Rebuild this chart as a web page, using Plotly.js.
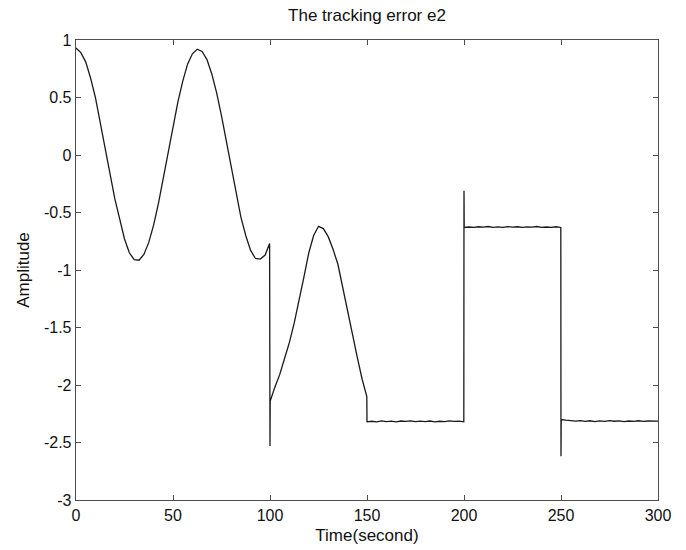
<!DOCTYPE html>
<html>
<head>
<meta charset="utf-8">
<script src="https://cdn.plot.ly/plotly-3.0.1.min.js"></script>
<style>html,body{margin:0;padding:0;background:#fff;}#chart{width:686px;height:550px;}</style>
</head>
<body>
<div id="chart"></div>
<script>
// Segment 1: sinusoidal error, 0-100 s
var timeSeg1 = [0,2.5,5,7.5,10,12.5,15,17.5,20,22.5,25,27.5,30,32.5,35,37.5,40,42.5,45,47.5,50,52.5,55,57.5,60,62.5,65,67.5,70,72.5,75,77.5,80,82.5,85,87.5,90,92.5,95,97.5,99.8];
var ampSeg1  = [0.93,0.89,0.81,0.67,0.50,0.29,0.07,-0.16,-0.38,-0.57,-0.73,-0.85,-0.91,-0.915,-0.865,-0.76,-0.61,-0.42,-0.205,0.02,0.25,0.46,0.64,0.79,0.88,0.92,0.90,0.83,0.705,0.54,0.34,0.115,-0.11,-0.34,-0.54,-0.70,-0.83,-0.90,-0.905,-0.87,-0.77];
// Spike at 100 s and segment 2: arc, 100-150 s
var timeSeg2 = [100,100.1,102.5,105,107.5,110,112.5,115,117.5,120,122.5,125,127.5,130,132.5,135,137.5,140,142.5,145,147.5,149.9];
var ampSeg2  = [-2.53,-2.14,-2.02,-1.91,-1.77,-1.63,-1.46,-1.27,-1.06,-0.85,-0.70,-0.62,-0.64,-0.71,-0.82,-0.95,-1.16,-1.36,-1.57,-1.76,-1.95,-2.10];
// Segment 3: flat low, 150-200 s
var timeSeg3 = [150,152.5,155,157.5,160,162.5,165,167.5,170,172.5,175,177.5,180,182.5,185,187.5,190,192.5,195,197.5,199.9];
var ampSeg3  = [-2.32,-2.315,-2.32,-2.312,-2.318,-2.314,-2.32,-2.313,-2.317,-2.312,-2.319,-2.314,-2.318,-2.313,-2.32,-2.315,-2.318,-2.312,-2.317,-2.314,-2.32];
// Spike at 200 s and segment 4: flat high, 200-250 s
var timeSeg4 = [200,200.1,202.5,205,207.5,210,212.5,215,217.5,220,222.5,225,227.5,230,232.5,235,237.5,240,242.5,245,247.5,249.9];
var ampSeg4  = [-0.31,-0.63,-0.626,-0.63,-0.624,-0.628,-0.622,-0.629,-0.625,-0.63,-0.623,-0.628,-0.624,-0.63,-0.625,-0.628,-0.622,-0.629,-0.626,-0.63,-0.624,-0.63];
// Spike at 250 s and segment 5: flat low, 250-300 s
var timeSeg5 = [250,250.1,252.5,255,257.5,260,262.5,265,267.5,270,272.5,275,277.5,280,282.5,285,287.5,290,292.5,295,297.5,300];
var ampSeg5  = [-2.62,-2.30,-2.306,-2.31,-2.314,-2.309,-2.316,-2.311,-2.318,-2.312,-2.316,-2.31,-2.315,-2.312,-2.318,-2.313,-2.316,-2.311,-2.317,-2.313,-2.316,-2.314];

var xTickVals = [0,50,100,150,200,250,300];
var xTickText = ['0','50','100','150','200','250','300'];
var yTickVals = [-3,-2.5,-2,-1.5,-1,-0.5,0,0.5,1];
var yTickText = ['-3','-2.5','-2','-1.5','-1','-0.5','0','0.5','1'];

var time = timeSeg1.concat(timeSeg2, timeSeg3, timeSeg4, timeSeg5);
var amplitude = ampSeg1.concat(ampSeg2, ampSeg3, ampSeg4, ampSeg5);

var trace = {
  x: time, y: amplitude, type: 'scatter', mode: 'lines',
  line: {color: '#1a1a1a', width: 1.3},
  hoverinfo: 'skip'
};

var fontFam = '"Liberation Sans", Arial, Helvetica, sans-serif';
var axisCommon = {
  showline: true, linecolor: '#4d4d4d', linewidth: 1.3, mirror: 'ticks',
  ticks: 'inside', ticklen: 5, tickcolor: '#4d4d4d', tickwidth: 1,
  showgrid: false, zeroline: false,
  tickfont: {family: fontFam, size: 16, color: '#111'}
};

var layout = {
  width: 686, height: 550,
  margin: {l: 76, r: 28, t: 40, b: 50},
  paper_bgcolor: '#fff', plot_bgcolor: '#fff',
  showlegend: false,
  title: {text: 'The tracking error e2', font: {family: fontFam, size: 17, color: '#111'},
          x: 0.5, xref: 'paper', xanchor: 'center', y: 0.973, yref: 'container', yanchor: 'middle'},
  xaxis: Object.assign({}, axisCommon, {
    range: [0, 300], tickmode: 'array', tickvals: xTickVals, ticktext: xTickText,
    title: {text: 'Time(second)', font: {family: fontFam, size: 17, color: '#111'}, standoff: 6}
  }),
  yaxis: Object.assign({}, axisCommon, {
    range: [-3, 1], tickmode: 'array', tickvals: yTickVals, ticktext: yTickText,
    title: {text: 'Amplitude', font: {family: fontFam, size: 17, color: '#111'}, standoff: 10}
  })
};

Plotly.newPlot('chart', [trace], layout, {displayModeBar: false, staticPlot: true});
</script>
</body>
</html>
